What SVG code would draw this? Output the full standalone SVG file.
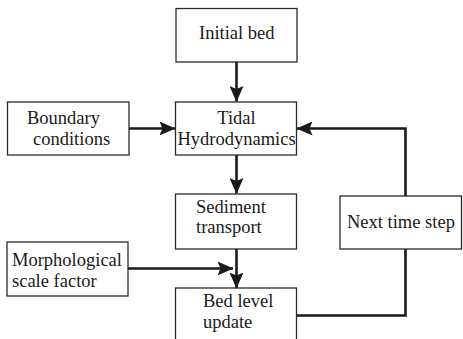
<svg xmlns="http://www.w3.org/2000/svg" width="463" height="339" viewBox="0 0 463 339">
<defs>
<style>
.box{fill:#fff;stroke:#2a2a2a;stroke-width:1.3}
.t{font-family:"Liberation Serif","Times New Roman",serif;font-size:18.5px;fill:#1a1a1a}
.c{fill:none;stroke:#1a1a1a;stroke-width:2.6}
</style>
<marker id="ah" viewBox="0 0 16 14" refX="15.5" refY="7" markerWidth="16" markerHeight="14" markerUnits="userSpaceOnUse" orient="auto">
<path d="M0,0 L16,7 L0,14 L3,7 Z" fill="#1a1a1a"/>
</marker>
</defs>
<rect width="463" height="339" fill="#fff"/>
<g id="connectors">
<line class="c" x1="236.5" y1="62" x2="236.5" y2="101.5" marker-end="url(#ah)"/>
<line class="c" x1="129" y1="128.5" x2="175" y2="128.5" marker-end="url(#ah)"/>
<polyline class="c" points="405.5,196 405.5,128.5 297,128.5" marker-end="url(#ah)"/>
<line class="c" x1="236.5" y1="155" x2="236.5" y2="193.5" marker-end="url(#ah)"/>
<line class="c" x1="128" y1="268.5" x2="233" y2="268.5" marker-end="url(#ah)"/>
<line class="c" x1="236.5" y1="249" x2="236.5" y2="288" marker-end="url(#ah)"/>
<polyline class="c" points="296,315.5 405.5,315.5 405.5,249"/>
</g>
<g id="initial-bed">
<rect class="box" x="176" y="8.5" width="121" height="53.5"/>
<text class="t" x="199" y="39">Initial bed</text>
</g>
<g id="boundary-conditions">
<rect class="box" x="7.5" y="102" width="121.5" height="53"/>
<text class="t" x="27" y="124">Boundary</text>
<text class="t" x="33" y="145">conditions</text>
</g>
<g id="tidal-hydrodynamics">
<rect class="box" x="175.5" y="102" width="121" height="53"/>
<text class="t" x="236.5" y="124" text-anchor="middle">Tidal</text>
<text class="t" x="236.5" y="144.5" text-anchor="middle">Hydrodynamics</text>
</g>
<g id="sediment-transport">
<rect class="box" x="175.5" y="194" width="121" height="55"/>
<text class="t" x="196" y="213">Sediment</text>
<text class="t" x="196" y="233">transport</text>
</g>
<g id="next-time-step">
<rect class="box" x="340" y="196" width="121.5" height="53"/>
<text class="t" x="347" y="228">Next time step</text>
</g>
<g id="morphological-scale-factor">
<rect class="box" x="7" y="242" width="121" height="54"/>
<text class="t" x="12" y="266">Morphological</text>
<text class="t" x="12" y="287">scale factor</text>
</g>
<g id="bed-level-update">
<rect class="box" x="175.5" y="288" width="121" height="60"/>
<text class="t" x="203" y="307">Bed level</text>
<text class="t" x="203" y="328">update</text>
</g>
</svg>
